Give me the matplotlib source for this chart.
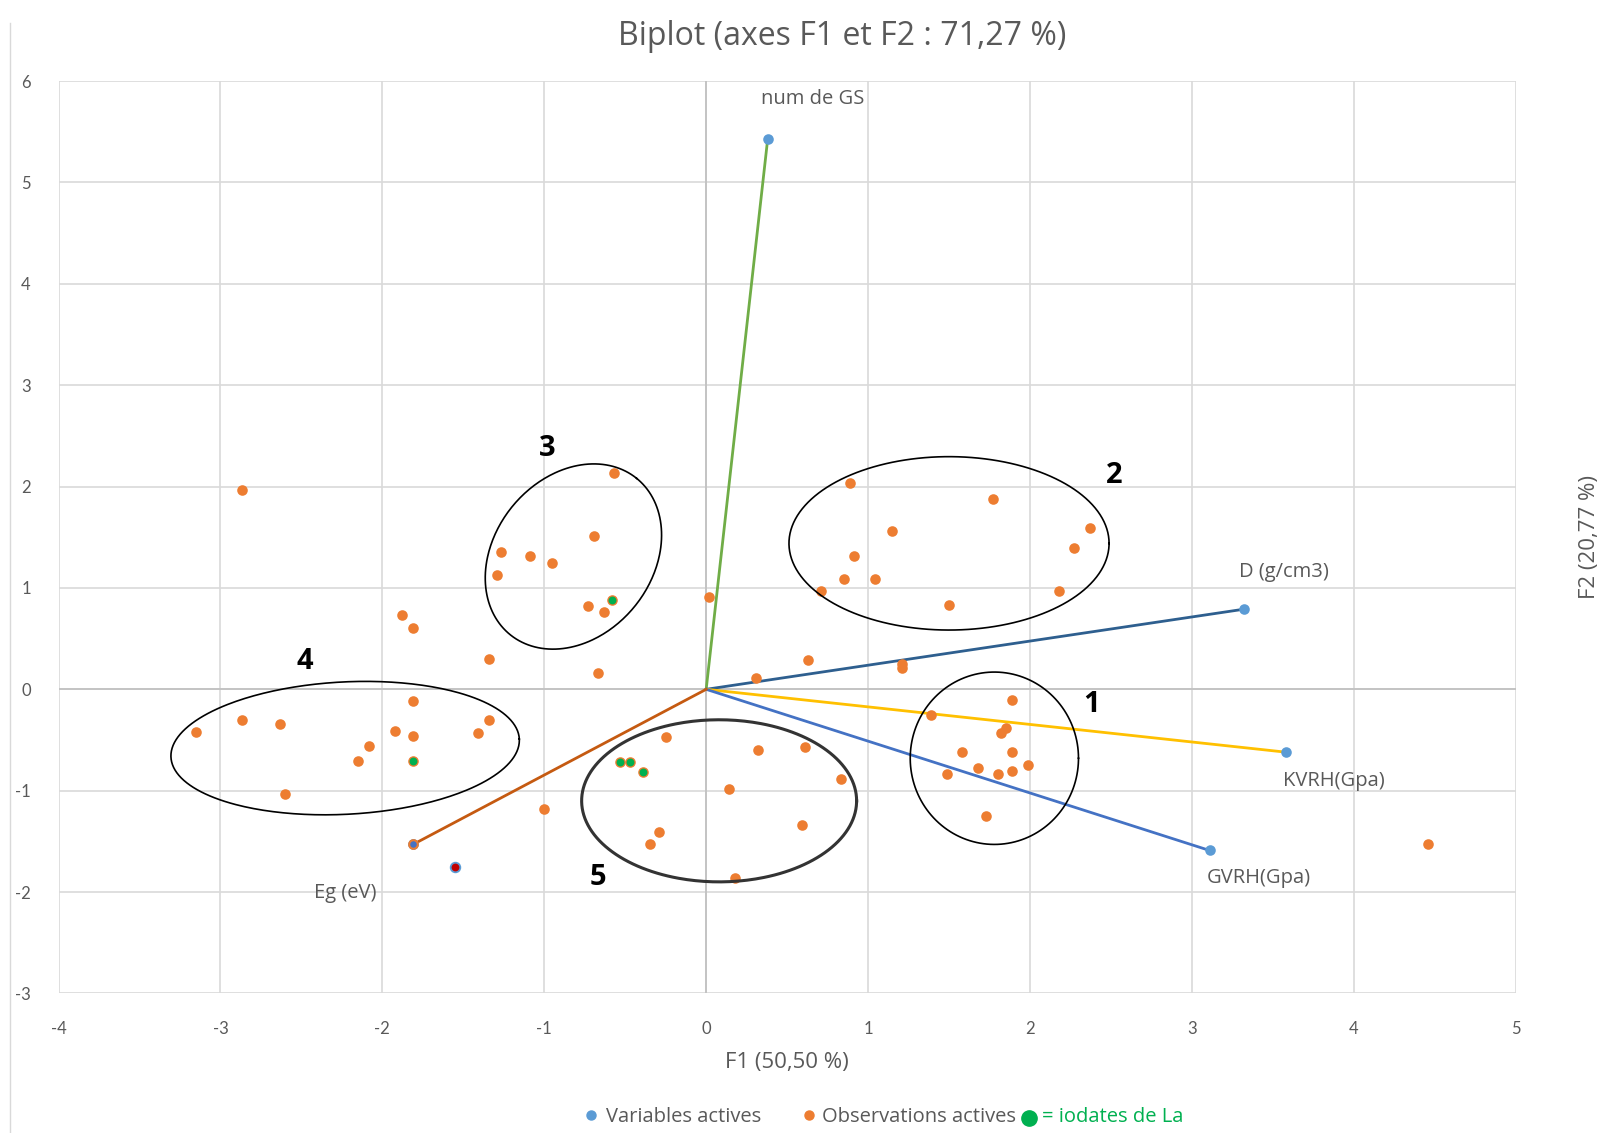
import numpy as np
import matplotlib
matplotlib.use("Agg")
import matplotlib.pyplot as plt
from matplotlib.lines import Line2D

plt.rcParams['font.family'] = ['Lato', 'DejaVu Sans']
plt.rcParams['axes.unicode_minus'] = False

# variables (loadings scaled for the biplot)
var_names = ["num de GS", "D (g/cm3)", "KVRH(Gpa)", "GVRH(Gpa)", "Eg (eV)"]
var_x = [0.38, 3.32, 3.58, 3.11, -1.81]
var_y = [5.43, 0.79, -0.62, -1.59, -1.53]
var_colors = ["#70AD47", "#2E5F8F", "#FFC000", "#4472C4", "#C55A11"]

# observations
obs_x = [-0.57, -0.69, -1.27, -1.09, -0.95, -1.29, -0.73, -0.63,
         -2.87, -1.88, -1.81, -1.34, -0.67, 0.02, 0.63, 0.31, 1.21, 1.21,
         -3.15, -2.87, -2.63, -2.08, -2.15, -1.92, -1.81, -1.81, -1.41, -1.34, -2.60,
         -1.00, -1.81,
         -0.25, 0.32, 0.61, 0.83, 0.14, 0.59, -0.29, -0.35, 0.18,
         0.89, 1.77, 1.15, 2.37, 2.27, 0.91, 0.85, 1.04, 0.71, 2.18, 1.50,
         1.89, 1.39, 1.85, 1.82, 1.58, 1.89, 1.68, 1.49, 1.80, 1.89, 1.99, 1.73,
         4.46]
obs_y = [2.13, 1.51, 1.35, 1.32, 1.25, 1.13, 0.82, 0.76,
         1.97, 0.73, 0.60, 0.30, 0.16, 0.91, 0.29, 0.11, 0.25, 0.21,
         -0.42, -0.30, -0.34, -0.56, -0.71, -0.41, -0.12, -0.46, -0.43, -0.30, -1.03,
         -1.18, -1.53,
         -0.47, -0.60, -0.57, -0.88, -0.98, -1.34, -1.41, -1.53, -1.86,
         2.04, 1.88, 1.56, 1.59, 1.39, 1.32, 1.09, 1.09, 0.97, 0.97, 0.83,
         -0.11, -0.25, -0.38, -0.43, -0.62, -0.62, -0.78, -0.84, -0.84, -0.81, -0.75, -1.25,
         -1.53]

# iodates de La (green)
iod_x = [-0.58, -1.81, -0.53, -0.47, -0.39]
iod_y = [0.88, -0.71, -0.72, -0.72, -0.82]

# the single dark red point
red_x = [-1.55]
red_y = [-1.75]

# cluster annotations
grp_labels = ["1", "2", "3", "4", "5"]
grp_lx = [2.38, 2.52, -0.98, -2.48, -0.67]
grp_ly = [-0.15, 2.11, 2.38, 0.27, -1.86]

GRAY = "#595959"
PX_X = 157.8  # pixels per unit (reference scale)
PX_Y = 98.8
FAM = ["Open Sans", "DejaVu Sans"]

fig = plt.figure(figsize=(16.09, 11.33), dpi=100)
ax = fig.add_axes([0.0364, 0.1232, 0.9056, 0.8052])

ax.set_xlim(-4, 5)
ax.set_ylim(-3, 6)
ax.set_xticks(range(-4, 6))
ax.set_yticks(range(-3, 7))
ax.grid(True, color="#D9D9D9", linewidth=1.2)
ax.set_axisbelow(True)
for s in ax.spines.values():
    s.set_visible(False)
ax.tick_params(length=0, labelsize=12, colors=GRAY, pad=20)
ax.axhline(0, color="#BFBFBF", linewidth=1.2, zorder=1)
ax.axvline(0, color="#BFBFBF", linewidth=1.2, zorder=1)

# vectors
for i in range(len(var_names)):
    ax.plot([0, var_x[i]], [0, var_y[i]], color=var_colors[i], linewidth=2, zorder=2)

# observations
ax.scatter(obs_x, obs_y, s=58, color="#ED7D31", zorder=3, linewidths=0)
ax.scatter(iod_x, iod_y, s=58, color="#ED7D31", zorder=3, linewidths=0)
ax.scatter(iod_x, iod_y, s=32, color="#00B050", zorder=4, linewidths=0)
ax.scatter(red_x, red_y, s=48, color="#C00000", edgecolors="#5B9BD5", linewidths=1.3, zorder=4)

# variable points
ax.scatter(var_x, var_y, s=58, color="#5B9BD5", zorder=5, linewidths=0)
ax.scatter(var_x[4:], var_y[4:], s=58, color="#ED7D31", zorder=5, linewidths=0)
ax.scatter(var_x[4:], var_y[4:], s=22, color="#4472C4", zorder=6, linewidths=0)

lab_off = [(0.28, 0.39, "center"), (-0.03, 0.37, "left"), (-0.02, -0.28, "left"),
           (-0.02, -0.27, "left"), (-0.42, -0.48, "center")]
for i, name in enumerate(var_names):
    dx, dy, ha = lab_off[i]
    ax.text(var_x[i] + dx, var_y[i] + dy, name, fontsize=14.5, color=GRAY,
            ha=ha, va="center", family=FAM)


def ellipse(cx, cy, a, b, ang, lw=1.2, col="black"):
    t = np.linspace(0, 2 * np.pi, 300)
    th = np.deg2rad(ang)
    dx = a * np.cos(t) * np.cos(th) - b * np.sin(t) * np.sin(th)
    dy = a * np.cos(t) * np.sin(th) + b * np.sin(t) * np.cos(th)
    ax.plot(cx + dx / PX_X, cy + dy / PX_Y, color=col, linewidth=lw, zorder=6)


ellipse(1.78, -0.68, 82, 84, 0)
ellipse(1.50, 1.44, 156, 84.5, 0)
ellipse(-0.82, 1.31, 98, 77, 51)
ellipse(-2.23, -0.58, 170, 64.5, 3)
ellipse(0.08, -1.10, 134, 79, 0, lw=2.2, col="#333333")

for i, g in enumerate(grp_labels):
    ax.text(grp_lx[i], grp_ly[i], g, fontsize=21, fontweight="bold", ha="center",
            va="center", color="black", family=FAM)

fig.text(0.5237, 0.968, "Biplot (axes F1 et F2 : 71,27 %)", fontsize=23, color=GRAY,
         ha="center", va="center", family=FAM)
fig.text(0.489, 0.0625, "F1 (50,50 %)", fontsize=16, color=GRAY, ha="center", va="center",
         family=FAM)
fig.text(0.988, 0.526, "F2 (20,77 %)", fontsize=16, color=GRAY, ha="center", va="center",
         rotation=90, family=FAM)

# legend drawn by hand
fig.add_artist(Line2D([0.367], [0.0155], marker="o", markersize=6.5, color="#5B9BD5",
                      linestyle="none", transform=fig.transFigure))
fig.text(0.3765, 0.0145, "Variables actives", fontsize=14.5, color=GRAY, va="center",
         family=FAM)
fig.add_artist(Line2D([0.5025], [0.0155], marker="o", markersize=6.5, color="#ED7D31",
                      linestyle="none", transform=fig.transFigure))
fig.text(0.511, 0.0145, "Observations actives", fontsize=14.5, color=GRAY, va="center",
         family=FAM)
fig.add_artist(Line2D([0.6395], [0.0135], marker="o", markersize=11, color="#00B050",
                      linestyle="none", transform=fig.transFigure))
fig.text(0.6475, 0.0145, "= iodates de La", fontsize=14.5, color="#00B050", va="center",
         family=FAM)

# chart area border on the left
fig.add_artist(Line2D([0.0065, 0.0065], [0.0, 0.98], color="#D9D9D9", linewidth=1,
                      transform=fig.transFigure))

fig.savefig("out.png", dpi=100)
